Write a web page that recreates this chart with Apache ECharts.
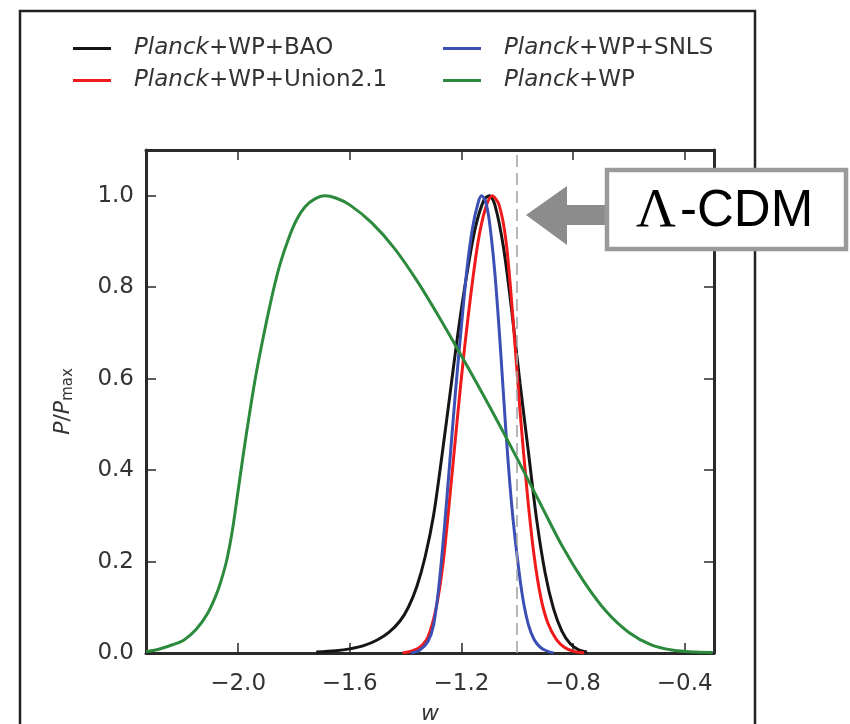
<!DOCTYPE html>
<html lang="en">
<head>
<meta charset="UTF-8">
<title>P/Pmax vs w</title>
<script src="https://cdn.jsdelivr.net/npm/echarts@6/dist/echarts.min.js"></script>
<style>
  html, body { margin: 0; padding: 0; background: #fff; }
  #main { width: 850px; height: 724px; }
</style>
</head>
<body>
<div id="main"></div>
<script>
// series values (w, P/Pmax)
var baoW = [-1.72, -1.65, -1.60, -1.55, -1.50, -1.46, -1.42, -1.39, -1.36, -1.33, -1.30, -1.27, -1.24, -1.21, -1.18, -1.15, -1.12, -1.10, -1.08, -1.05, -1.02, -0.99, -0.96, -0.93, -0.90, -0.87, -0.84, -0.81, -0.78, -0.75];
var baoP = [0.002, 0.005, 0.009, 0.016, 0.029, 0.045, 0.07, 0.10, 0.145, 0.21, 0.30, 0.43, 0.57, 0.71, 0.83, 0.93, 0.99, 1.0, 0.98, 0.89, 0.75, 0.59, 0.44, 0.29, 0.175, 0.097, 0.048, 0.02, 0.007, 0.002];

var unionW = [-1.41, -1.38, -1.35, -1.32, -1.29, -1.265, -1.24, -1.215, -1.19, -1.165, -1.14, -1.115, -1.09, -1.065, -1.04, -1.015, -0.99, -0.965, -0.94, -0.915, -0.89, -0.86, -0.83, -0.80, -0.76];
var unionP = [0.0, 0.004, 0.012, 0.035, 0.10, 0.20, 0.35, 0.51, 0.66, 0.79, 0.90, 0.97, 1.0, 0.98, 0.90, 0.73, 0.53, 0.355, 0.215, 0.12, 0.065, 0.03, 0.012, 0.004, 0.0];

var snlsW = [-1.38, -1.35, -1.32, -1.30, -1.28, -1.26, -1.24, -1.22, -1.20, -1.18, -1.16, -1.14, -1.128, -1.115, -1.10, -1.08, -1.06, -1.04, -1.02, -1.00, -0.98, -0.96, -0.94, -0.92, -0.90, -0.87];
var snlsP = [0.0, 0.006, 0.025, 0.06, 0.15, 0.28, 0.43, 0.58, 0.715, 0.84, 0.93, 0.985, 1.0, 0.99, 0.945, 0.83, 0.665, 0.48, 0.325, 0.21, 0.12, 0.062, 0.03, 0.014, 0.006, 0.0];

var wpW = [-2.33, -2.30, -2.27, -2.235, -2.195, -2.15, -2.11, -2.08, -2.06, -2.04, -2.02, -2.0, -1.98, -1.96, -1.94, -1.92, -1.90, -1.875, -1.85, -1.82, -1.79, -1.76, -1.725, -1.69, -1.65, -1.60, -1.52, -1.44, -1.36, -1.28, -1.20, -1.10, -1.00, -0.92, -0.84, -0.76, -0.68, -0.60, -0.52, -0.44, -0.36, -0.30];
var wpP = [0.003, 0.006, 0.011, 0.018, 0.028, 0.052, 0.086, 0.125, 0.16, 0.205, 0.27, 0.355, 0.44, 0.52, 0.595, 0.66, 0.72, 0.79, 0.85, 0.905, 0.948, 0.976, 0.993, 1.0, 0.995, 0.98, 0.94, 0.885, 0.815, 0.735, 0.65, 0.54, 0.425, 0.33, 0.235, 0.155, 0.09, 0.045, 0.018, 0.006, 0.002, 0.001];

var xTicks = [-2.0, -1.6, -1.2, -0.8, -0.4];
var yTicks = [0.0, 0.2, 0.4, 0.6, 0.8, 1.0];
var lcdmW = -1.0;

function zip(a, b) {
    var out = [];
    for (var i = 0; i < a.length; i++) out.push([a[i], b[i]]);
    return out;
}
function fmt(v) {
    return v.toFixed(1).replace('-', '\u2212');
}

var myChart = echarts.init(document.getElementById('main'));

var axisColor = '#2a2a2a';
var tickFont = { fontFamily: 'DejaVu Sans', fontSize: 23, color: '#333' };
var legendText = {
    fontFamily: 'DejaVu Sans', fontSize: 23, color: '#333',
    padding: [0, 0, 0, 18],
    rich: { i: { fontFamily: 'DejaVu Sans', fontSize: 23, fontStyle: 'italic', color: '#333' } }
};
function legendFmt(name) {
    return '{i|Planck}' + name.slice(6);
}
function frameAxis(pos, min, max, ticks) {
    return {
        type: 'value', position: pos, min: min, max: max,
        axisLine: { onZero: false, lineStyle: { color: axisColor, width: 3 } },
        axisTick: { inside: true, length: 10, customValues: ticks, lineStyle: { color: axisColor, width: 1.5 } },
        axisLabel: { show: false },
        splitLine: { show: false }
    };
}

var option = {
    animation: false,
    backgroundColor: '#fff',
    grid: { left: 146, top: 150, width: 568, height: 503, outerBoundsMode: 'none' },
    legend: [{
        left: 68, top: 32, orient: 'vertical', itemGap: 9,
        itemWidth: 38, itemHeight: 3, icon: 'rect',
        data: ['Planck+WP+BAO', 'Planck+WP+Union2.1'],
        formatter: legendFmt, textStyle: legendText
    }, {
        left: 438, top: 32, orient: 'vertical', itemGap: 9,
        itemWidth: 38, itemHeight: 3, icon: 'rect',
        data: ['Planck+WP+SNLS', 'Planck+WP'],
        formatter: legendFmt, textStyle: legendText
    }],
    xAxis: [{
        type: 'value', position: 'bottom', min: -2.33, max: -0.295,
        name: 'w', nameLocation: 'middle', nameGap: 50,
        nameTextStyle: { fontFamily: 'DejaVu Sans', fontSize: 22, fontStyle: 'italic', color: '#333' },
        axisLine: { onZero: false, lineStyle: { color: axisColor, width: 3 } },
        axisTick: { inside: true, length: 10, customValues: xTicks, lineStyle: { color: axisColor, width: 1.5 } },
        axisLabel: Object.assign({ customValues: xTicks, margin: 20, formatter: fmt }, tickFont),
        splitLine: { show: false }
    }, frameAxis('top', -2.33, -0.295, xTicks)],
    yAxis: [{
        type: 'value', position: 'left', min: 0, max: 1.1,
        name: '{i|P}/{i|P}{s|max}', nameLocation: 'middle', nameGap: 70, nameRotate: 90,
        nameTextStyle: {
            fontFamily: 'DejaVu Sans', fontSize: 22, color: '#333',
            rich: {
                i: { fontFamily: 'DejaVu Sans', fontSize: 22, fontStyle: 'italic', color: '#333' },
                s: { fontFamily: 'DejaVu Sans', fontSize: 15, color: '#333', padding: [10, 0, 0, 0] }
            }
        },
        axisLine: { onZero: false, lineStyle: { color: axisColor, width: 3 } },
        axisTick: { inside: true, length: 10, customValues: yTicks, lineStyle: { color: axisColor, width: 1.5 } },
        axisLabel: Object.assign({ customValues: yTicks, margin: 12, formatter: fmt }, tickFont),
        splitLine: { show: false }
    }, frameAxis('right', 0, 1.1, yTicks)],
    series: [{
        name: 'Planck+WP+BAO', type: 'line', smooth: 0.3, showSymbol: false,
        color: '#151515', lineStyle: { width: 3 },
        data: zip(baoW, baoP),
        markLine: {
            silent: true, symbol: 'none', label: { show: false },
            lineStyle: { color: '#a0a0a0', type: [12, 6], width: 1.5 },
            data: [{ xAxis: lcdmW }]
        }
    }, {
        name: 'Planck+WP+Union2.1', type: 'line', smooth: 0.3, showSymbol: false,
        color: '#f01a1a', lineStyle: { width: 3 },
        data: zip(unionW, unionP)
    }, {
        name: 'Planck+WP+SNLS', type: 'line', smooth: 0.3, showSymbol: false,
        color: '#3b4fb5', lineStyle: { width: 3 },
        data: zip(snlsW, snlsP)
    }, {
        name: 'Planck+WP', type: 'line', smooth: 0.3, showSymbol: false,
        color: '#2b8a3c', lineStyle: { width: 3 },
        data: zip(wpW, wpP)
    }],
    graphic: [{
        type: 'rect', z: 100,
        shape: { x: 20, y: 11, width: 735, height: 740 },
        style: { fill: 'none', stroke: '#222', lineWidth: 2.5 }
    }, {
        type: 'polygon', z: 110,
        shape: { points: [[526, 215], [567, 186], [567, 205], [608, 205], [608, 225], [567, 225], [567, 245]] },
        style: { fill: '#8c8c8c' }
    }, {
        type: 'rect', z: 110,
        shape: { x: 607, y: 170, width: 239, height: 79 },
        style: { fill: '#fff', stroke: '#9a9a9a', lineWidth: 4.5 }
    }, {
        type: 'text', z: 120,
        style: { x: 636, y: 212, text: '\u039B', fontFamily: 'Liberation Serif', fontSize: 55, fill: '#000', verticalAlign: 'middle' }
    }, {
        type: 'text', z: 120,
        style: { x: 680, y: 212, text: '-CDM', fontFamily: 'Liberation Sans', fontSize: 51, fill: '#000', verticalAlign: 'middle' }
    }]
};

myChart.setOption(option);
</script>
</body>
</html>
